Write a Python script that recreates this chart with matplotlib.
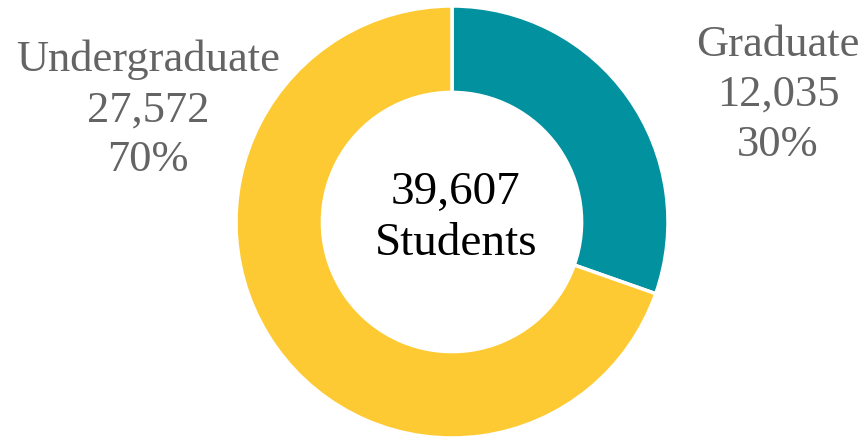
import matplotlib
matplotlib.use('Agg')
import matplotlib.pyplot as plt

# Enrolment split
labels = ['Graduate', 'Undergraduate']
counts = [12035, 27572]
colors = ['#02919E', '#FECA33']

total = sum(counts)
pcts = [round(100 * c / total) for c in counts]

plt.rcParams['font.family'] = ['Liberation Serif']

fig = plt.figure(figsize=(8.67, 4.41), dpi=100)
ax = fig.add_axes([0, 0, 1, 1])

# donut, graduate first going clockwise from the top
ax.pie(counts, colors=colors, startangle=90, counterclock=False, radius=1,
       wedgeprops=dict(width=0.4, edgecolor='white', linewidth=2.5))

# 1 data unit = 216 px, ring centre at (452, 222) px from top-left
scale = 216
ax.set_xlim(-452 / scale, (867 - 452) / scale)
ax.set_ylim(-(441 - 222) / scale, 222 / scale)
ax.set_aspect('equal')
ax.axis('off')

grey = '#646464'
ax.text((778 - 452) / scale, (222 - 95) / scale,
        f'{labels[0]}\n{counts[0]:,}\n{pcts[0]}%',
        ha='center', va='center', fontsize=32, color=grey, linespacing=1.32)
ax.text((148 - 452) / scale, (222 - 110) / scale,
        f'{labels[1]}\n{counts[1]:,}\n{pcts[1]}%',
        ha='center', va='center', fontsize=32, color=grey, linespacing=1.32)
ax.text((456 - 452) / scale, (222 - 218) / scale,
        f'{total:,}\nStudents',
        ha='center', va='center', fontsize=34, color='black', linespacing=1.26)

fig.savefig('out.png', dpi=100)
